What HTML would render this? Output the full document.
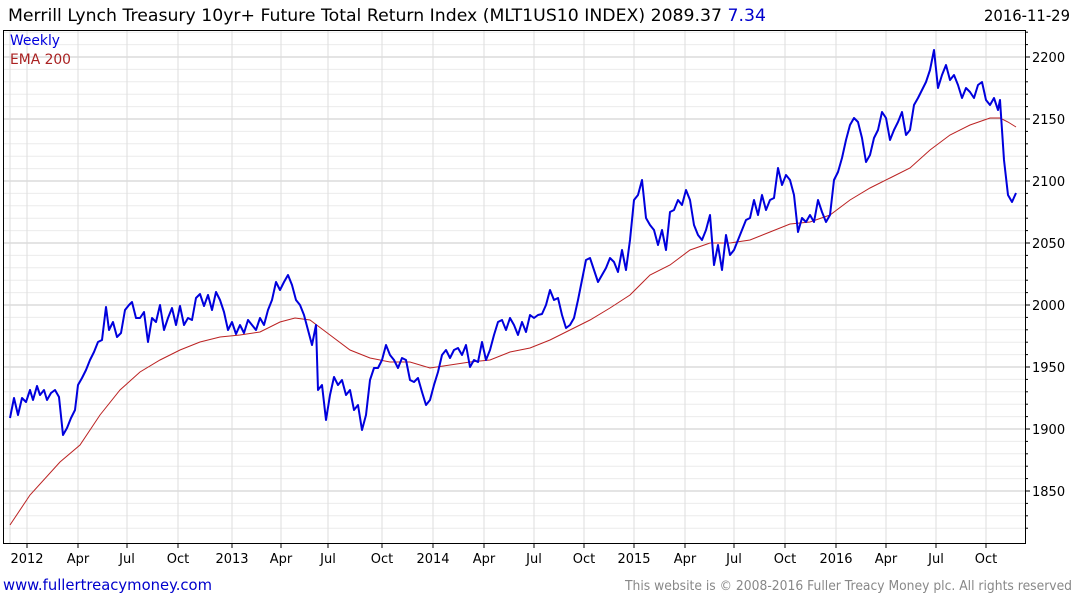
<!DOCTYPE html>
<html><head><style>
body{margin:0;background:#fff;}
svg{display:block;font-family:"DejaVu Sans","Liberation Sans",sans-serif;}
</style></head><body>
<svg width="1075" height="600" viewBox="0 0 1075 600" xmlns="http://www.w3.org/2000/svg">
<rect width="1075" height="600" fill="#fff"/>
<g id="grid"></g>
<text x="8" y="21" font-size="17" fill="#000" textLength="758" lengthAdjust="spacingAndGlyphs">Merrill Lynch Treasury 10yr+ Future Total Return Index (MLT1US10 INDEX) 2089.37 <tspan fill="#0000cc">7.34</tspan></text>
<text x="1070" y="21" font-size="16" fill="#000" text-anchor="end" textLength="86" lengthAdjust="spacingAndGlyphs">2016-11-29</text>
<text x="10" y="45" font-size="14" fill="#0000dd" textLength="50" lengthAdjust="spacingAndGlyphs">Weekly</text>
<text x="10" y="64" font-size="14" fill="#aa2222" textLength="61" lengthAdjust="spacingAndGlyphs">EMA 200</text>
<text x="3" y="590" font-size="15" fill="#0000cc" textLength="209" lengthAdjust="spacingAndGlyphs">www.fullertreacymoney.com</text>
<text x="625" y="590" font-size="13" fill="#888" textLength="447" lengthAdjust="spacingAndGlyphs">This website is © 2008-2016 Fuller Treacy Money plc. All rights reserved</text>
<polyline fill="none" stroke="#bb2222" stroke-width="1" points="10,525 30,495 60,462 80,445 100,415 120,390 140,372 160,360 180,350 200,342 220,337 240,335 260,332 280,322 295,318 310,320 330,335 350,350 370,358 390,362 410,362 430,368 450,365 470,362 490,360 510,352 530,348 550,340 570,330 590,320 610,308 630,295 650,275 670,265 690,250 710,243 730,243 750,240 770,232 790,224 810,222 830,215 850,200 870,188 890,178 910,168 930,150 950,135 970,125 990,118 1000,118 1008,122 1016,127"/>
<polyline fill="none" stroke="#0000dd" stroke-width="2" stroke-linejoin="round" points="10,418 14,398 18,415 22,398 26,402 30,390 33,400 37,386 40,395 44,390 47,400 51,393 55,390 59,397 63,435 67,428 71,418 75,410 78,385 82,378 86,370 90,360 94,352 98,342 102,340 106,307 109,330 113,322 117,337 121,333 125,310 129,305 132,302 136,318 140,318 144,312 148,342 152,318 156,322 160,305 164,330 168,318 172,308 176,325 180,306 184,325 188,318 192,320 196,298 200,294 204,306 208,295 212,310 216,292 220,300 224,312 228,330 232,322 236,334 240,325 244,333 248,320 252,325 256,330 260,318 264,325 268,310 272,300 276,282 280,290 284,282 288,275 292,285 296,300 300,305 304,315 308,330 312,345 316,325 318,390 322,385 326,420 330,395 334,377 338,385 342,380 346,395 350,390 354,410 358,405 362,430 366,415 370,380 374,368 378,368 382,360 386,345 390,355 394,360 398,368 402,358 406,360 410,380 414,382 418,378 422,392 426,405 430,400 434,385 438,372 442,355 446,350 450,358 454,350 458,348 462,355 466,345 470,367 474,360 478,362 482,342 486,360 490,350 494,335 498,322 502,320 506,330 510,318 514,325 518,335 522,322 526,332 530,315 534,318 538,315 542,314 546,305 550,290 554,300 558,298 562,315 566,328 570,325 574,318 578,300 582,280 586,260 590,258 594,270 598,282 602,275 606,268 610,258 614,262 618,272 622,250 626,270 630,240 634,200 638,195 642,180 646,218 650,225 654,230 658,245 662,230 666,250 670,212 674,210 678,200 682,205 686,190 690,200 694,225 698,235 702,240 706,230 710,215 714,265 718,245 722,270 726,235 730,255 734,250 738,240 742,230 746,220 750,218 754,200 758,215 762,195 766,210 770,200 774,198 778,168 782,185 786,175 790,180 794,195 798,232 802,218 806,222 810,215 814,222 818,200 822,212 826,222 830,215 834,180 838,172 842,158 846,140 850,125 854,118 858,122 862,138 866,162 870,155 874,138 878,130 882,112 886,118 890,140 894,130 898,122 902,112 906,135 910,130 914,105 918,98 922,90 926,82 930,70 934,50 938,88 942,75 946,65 950,80 954,75 958,85 962,98 966,88 970,92 974,98 978,85 982,82 986,100 990,105 994,98 998,110 1000,100 1004,160 1008,195 1012,202 1016,193"/>
<rect x="3.5" y="30.5" width="1022" height="513" fill="none" stroke="#000" stroke-width="1"/>
</svg>
<script>
(function(){
var g=document.getElementById('grid'),s='';
for(var v=1820;v<=2220;v+=10){var y=57+(2200-v)*1.24;if(y<31||y>543)continue;
var maj=v%50==0;
s+='<line x1="4" x2="1025" y1="'+y+'" y2="'+y+'" stroke="'+(maj?'#c8c8c8':'#ececec')+'"/>';
s+='<line x1="1025" x2="'+(maj?1030:1028)+'" y1="'+y+'" y2="'+y+'" stroke="#000"/>';
if(maj)s+='<text x="1032" y="'+(y+5)+'" font-size="13">'+v+'</text>';}
var xs=[[27,'2012'],[78,'Apr'],[127,'Jul'],[178,'Oct'],[232,'2013'],[281,'Apr'],[328,'Jul'],[382,'Oct'],[433,'2014'],[484,'Apr'],[534,'Jul'],[584,'Oct'],[634,'2015'],[685,'Apr'],[734,'Jul'],[785,'Oct'],[836,'2016'],[886,'Apr'],[936,'Jul'],[986,'Oct']];
xs.forEach(function(a){s+='<line x1="'+a[0]+'" x2="'+a[0]+'" y1="31" y2="543" stroke="#dddddd"/>';
s+='<line x1="'+a[0]+'" x2="'+a[0]+'" y1="543" y2="548" stroke="#000"/>';
s+='<text x="'+a[0]+'" y="563" font-size="13" text-anchor="middle">'+a[1]+'</text>';});
s+='<line x1="10" x2="10" y1="31" y2="543" stroke="#dddddd"/>';
g.innerHTML=s;})();
</script>
</body></html>
